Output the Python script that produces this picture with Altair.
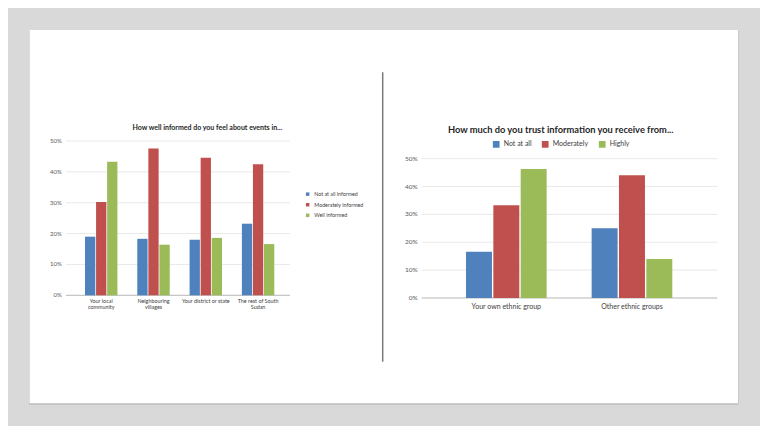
import altair as alt
import pandas as pd

# ---------------- data ----------------
categories_left = ["Your local community", "Neighbouring villages",
                   "Your district or state", "The rest of South Sudan"]
labels_left = ["Your local\ncommunity", "Neighbouring\nvillages",
               "Your district or state", "The rest of South\nSudan"]
series_left = ["Not at all informed", "Moderately informed", "Well informed"]
left_not_at_all = [0.190, 0.183, 0.180, 0.232]
left_moderately = [0.302, 0.476, 0.446, 0.425]
left_well = [0.433, 0.164, 0.186, 0.166]

categories_right = ["Your own ethnic group", "Other ethnic groups"]
series_right = ["Not at all", "Moderately", "Highly"]
right_not_at_all = [0.166, 0.250]
right_moderately = [0.333, 0.441]
right_highly = [0.463, 0.140]

ticks = [0.0, 0.1, 0.2, 0.3, 0.4, 0.5]

title_left = "How well informed do you feel about events in..."
title_right = "How much do you trust information you receive from..."

colors = ["#4f81bd", "#c0504d", "#9bbb59"]
FONT = "Lato"

# ---------------- tables ----------------
def long_table(cats, series, cols):
    rows = []
    for s, vals in zip(series, cols):
        for c, v in zip(cats, vals):
            rows.append({"cat": c, "series": s, "value": v})
    return pd.DataFrame(rows)

df_left = long_table(categories_left, series_left,
                     [left_not_at_all, left_moderately, left_well])
df_right = long_table(categories_right, series_right,
                      [right_not_at_all, right_moderately, right_highly])
df_lab_left = pd.DataFrame({"cat": categories_left, "label": labels_left})
df_lab_right = pd.DataFrame({"cat": categories_right, "label": categories_right})
df_ticks = pd.DataFrame({"v": ticks})


def panel(df, df_lab, cats, series, xrange, x_pi, off_pi, yrange,
          grid_x, tick_x, tick_fs, lab_y, lab_fs, lab_baseline, legend):
    xs = alt.Scale(type="band", domain=cats, range=xrange,
                   paddingInner=x_pi, paddingOuter=0)
    ys = alt.Scale(domain=[0, 0.5], range=yrange, nice=False, zero=True)

    grid = alt.Chart(df_ticks).mark_rule(strokeWidth=0.8).encode(
        y=alt.Y("v:Q", scale=ys, axis=None),
        x=alt.value(grid_x[0]), x2=alt.value(grid_x[1]),
        stroke=alt.condition("datum.v == 0", alt.value("#a6a6a6"),
                             alt.value("#e3e3e3")),
    )
    tick_text = alt.Chart(df_ticks).mark_text(
        align="right", baseline="middle", font=FONT, fontSize=tick_fs,
        color="#595959").encode(
        y=alt.Y("v:Q", scale=ys, axis=None),
        x=alt.value(tick_x),
        text=alt.Text("v:Q", format=".0%"),
    )
    bars = alt.Chart(df).mark_bar().encode(
        x=alt.X("cat:N", scale=xs, axis=None, sort=cats),
        xOffset=alt.XOffset("series:N", sort=series,
                            scale=alt.Scale(domain=series, paddingInner=off_pi,
                                            paddingOuter=0)),
        y=alt.Y("value:Q", scale=ys, axis=None),
        color=alt.Color("series:N", sort=series,
                        scale=alt.Scale(domain=series, range=colors),
                        legend=legend),
    )
    cat_text = alt.Chart(df_lab).mark_text(
        align="center", baseline=lab_baseline, font=FONT, fontSize=lab_fs,
        color="#404040", lineBreak="\n", lineHeight=lab_fs + 0.6).encode(
        x=alt.X("cat:N", scale=xs, axis=None, sort=cats),
        y=alt.value(lab_y),
        text="label:N",
    )
    return alt.layer(grid, bars, tick_text, cat_text)


legend_left = alt.Legend(
    orient="none", legendX=297, legendY=183.5, direction="vertical",
    title=None, symbolType="square", symbolSize=12, symbolStrokeWidth=0,
    labelFont=FONT, labelFontSize=5.3, labelColor="#404040", labelOffset=4,
    rowPadding=4.6, padding=0,
)
legend_right = alt.Legend(
    orient="none", legendX=484.7, legendY=132.8, direction="horizontal",
    title=None, symbolType="square", symbolSize=45, symbolStrokeWidth=0,
    labelFont=FONT, labelFontSize=7, labelColor="#404040", labelOffset=4,
    columnPadding=10, padding=0,
)

left = panel(df_left, df_lab_left, categories_left, series_left,
             xrange=[77, 266.3], x_pi=0.38, off_pi=0.07, yrange=[287.3, 133],
             grid_x=[58, 282], tick_x=53.7, tick_fs=6,
             lab_y=290.8, lab_fs=5.4, lab_baseline="top", legend=legend_left)
right = panel(df_right, df_lab_right, categories_right, series_right,
              xrange=[458, 664.3], x_pi=0.358, off_pi=0.05, yrange=[290, 150.7],
              grid_x=[413.7, 709.3], tick_x=409.7, tick_fs=6.5,
              lab_y=299, lab_fs=7, lab_baseline="middle", legend=legend_right)

# ---------------- slide background and decorations ----------------
one = pd.DataFrame({"k": [0]})
shadow = alt.Chart(one).mark_rect(color="#bcbcbc").encode(
    x=alt.value(21), x2=alt.value(730.5), y=alt.value(22.5), y2=alt.value(396.8))
slide = alt.Chart(one).mark_rect(color="#ffffff").encode(
    x=alt.value(21.5), x2=alt.value(730), y=alt.value(22), y2=alt.value(395.2))
divider = alt.Chart(one).mark_rule(color="#7a7a7a", strokeWidth=1.5).encode(
    x=alt.value(374.7), y=alt.value(64.3), y2=alt.value(353.7))

t_left = alt.Chart(pd.DataFrame({"t": [title_left]})).mark_text(
    font=FONT, fontWeight="bold", fontSize=7.0, color="#262626",
    align="center", baseline="middle").encode(
    x=alt.value(199.3), y=alt.value(120.3), text="t:N")
t_right = alt.Chart(pd.DataFrame({"t": [title_right]})).mark_text(
    font=FONT, fontWeight="bold", fontSize=9.3, color="#262626",
    align="center", baseline="middle").encode(
    x=alt.value(552.7), y=alt.value(122), text="t:N")

chart = alt.layer(shadow, slide, divider, t_left, t_right, left, right).resolve_scale(
    x="independent", y="independent", color="independent", xOffset="independent"
).properties(
    width=752, height=418, padding=0,
    autosize=alt.AutoSizeParams(type="none"),
).configure(background="#d9d9d9").configure_view(stroke=None)

chart.save("out.html", embed_options={"renderer": "svg", "actions": False})
